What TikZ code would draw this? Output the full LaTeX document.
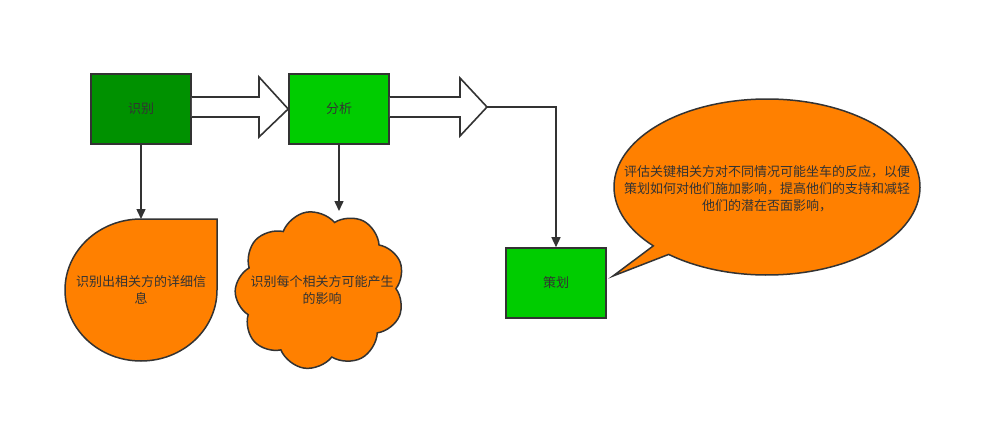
\documentclass[tikz,border=0pt]{standalone}
\usepackage{fontspec}
\setmainfont{Noto Sans CJK SC}
\usetikzlibrary{arrows.meta,shapes.symbols,calc}
\definecolor{edge}{HTML}{333333}
\definecolor{dkgreen}{HTML}{009100}
\definecolor{ltgreen}{HTML}{00CC00}
\definecolor{orng}{HTML}{FF8000}
\tikzset{
  stepbox/.style={draw=edge, line width=1.6pt, minimum width=100pt, minimum height=70pt, inner sep=0pt, font=\fontsize{13}{16}\selectfont, text=edge},
  blob/.style={draw=edge, line width=1.5pt, fill=orng},
  lbl/.style={font=\fontsize{13}{17}\selectfont, text=edge, align=center, inner sep=0pt},
  conn/.style={draw=edge, line width=1.5pt, -{Triangle[length=10pt,width=9pt]}},
  blockarrow/.style={draw=edge, line width=1.6pt, fill=white, line join=miter}
}
\begin{document}
\begin{tikzpicture}[x=1pt,y=-1pt]
\useasboundingbox[fill=white] (0,0) rectangle (982,433);

% boxes
\node[stepbox, fill=dkgreen] (shibie) at (141,109) {识别};
\node[stepbox, fill=ltgreen] (fenxi) at (339,109) {分析};
\node[stepbox, fill=ltgreen] (cehua) at (556,283) {策划};

% block arrows
\fill[white] (shibie.east |- 0,97) -- (259,97) -- (259,77) -- (fenxi.west) -- (259,137) -- (259,117) -- (shibie.east |- 0,117) -- cycle;
\draw[blockarrow, fill=none] (shibie.east |- 0,97) -- (259,97) -- (259,77) -- (fenxi.west) -- (259,137) -- (259,117) -- (shibie.east |- 0,117);
\coordinate (tip2) at (487,107);
\fill[white] (fenxi.east |- 0,97) -- (460,97) -- (460,78) -- (tip2) -- (460,136) -- (460,117) -- (fenxi.east |- 0,117) -- cycle;
\draw[blockarrow, fill=none] (fenxi.east |- 0,97) -- (460,97) -- (460,78) -- (tip2) -- (460,136) -- (460,117) -- (fenxi.east |- 0,117);

% teardrop
\draw[blob] (217,219) -- (217,290) arc[start angle=0, end angle=270, x radius=76, y radius=71] -- cycle;
\coordinate (teartop) at (141,219);
\node[lbl] (teartext) at (141,290) {识别出相关方的详细信\\息};

% cloud
\node[cloud, cloud puffs=9, cloud puff arc=120, aspect=1.05, draw=edge, line width=1.5pt, fill=orng, minimum width=170pt, minimum height=158pt, inner sep=0pt, rotate=10] (cloud) at (320,290) {};
\coordinate (cloudtop) at (339,211);
\node[lbl] (cloudtext) at (322,290) {识别每个相关方可能产生\\的影响};

% speech bubble
\coordinate (bc) at (767,187);
\draw[blob] (613,276) -- ($(bc)+(130:153 and 88)$) arc[start angle=130, end angle=-222, x radius=153, y radius=88] -- cycle;
\node[lbl] (bubbletext) at (767,189) {评估关键相关方对不同情况可能坐车的反应，以便\\策划如何对他们施加影响，提高他们的支持和减轻\\他们的潜在否面影响，};

% connectors
\draw[conn] (shibie.south) -- (teartop);
\draw[conn] (fenxi.south) -- (cloudtop);
\draw[conn] (tip2) -| (cehua.north);
\end{tikzpicture}
\end{document}
